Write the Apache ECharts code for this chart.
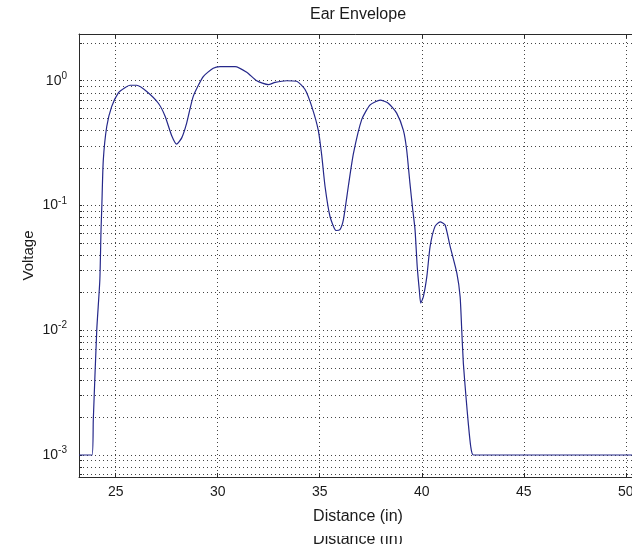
<!DOCTYPE html>
<html>
<head>
<meta charset="utf-8">
<title>Ear Envelope</title>
<script src="https://cdn.jsdelivr.net/npm/echarts@6/dist/echarts.min.js"></script>
<style>
  html, body { margin: 0; padding: 0; background: #fff; }
  #chart { width: 632px; height: 544px; }
</style>
</head>
<body>
<div id="chart"></div>
<script>
// 读图得到的数据 (distance in inches, voltage on log scale)
var distance = [
  23.2, 23.84, 23.9, 24.07, 24.22, 24.28, 24.32, 24.39, 24.56, 24.8,
  25.13, 25.45, 25.7, 26.03, 26.52, 27.09, 27.42, 27.75, 27.99, 28.24,
  28.48, 28.8, 29.29, 29.78, 30.11, 30.85, 31.42, 31.91, 32.48, 32.81,
  33.38, 33.87, 34.28, 34.61, 34.93, 35.1, 35.26, 35.5, 35.8, 35.99,
  36.16, 36.4, 36.65, 37.06, 37.47, 37.96, 38.36, 38.77, 39.1, 39.26,
  39.42, 39.55, 39.67, 39.78, 39.88, 39.95, 40.08, 40.25, 40.41, 40.65,
  40.9, 41.14, 41.39, 41.72, 41.88, 41.96, 42.04, 42.17, 42.28, 42.4,
  42.53, 50.55
];
var voltage = [
  0.001, 0.001, 0.0019, 0.01, 0.025, 0.064, 0.1, 0.23, 0.43, 0.62,
  0.8, 0.88, 0.92, 0.92, 0.82, 0.66, 0.52, 0.36, 0.31, 0.35,
  0.46, 0.75, 1.08, 1.26, 1.3, 1.3, 1.17, 1.0, 0.93, 0.97,
  1.0, 0.99, 0.85, 0.62, 0.4, 0.25, 0.142, 0.082, 0.063, 0.064,
  0.077, 0.142, 0.26, 0.49, 0.64, 0.7, 0.66, 0.55, 0.4, 0.28,
  0.151, 0.095, 0.064, 0.032, 0.021, 0.0165, 0.0186, 0.027, 0.047, 0.068,
  0.074, 0.07, 0.047, 0.0287, 0.0186, 0.01, 0.0054, 0.0029, 0.0018, 0.00117,
  0.001, 0.001
];

// 坐标轴刻度
var xTicks = [25, 30, 35, 40, 45, 50];
var yDecades = [0.001, 0.01, 0.1, 1];
var yGridLines = [
  0.0007, 0.0008, 0.0009,
  0.001, 0.002, 0.003, 0.004, 0.005, 0.006, 0.007, 0.008, 0.009,
  0.01, 0.02, 0.03, 0.04, 0.05, 0.06, 0.07, 0.08, 0.09,
  0.1, 0.2, 0.3, 0.4, 0.5, 0.6, 0.7, 0.8, 0.9,
  1, 2
];

var FONT = "'Liberation Sans', Arial, Helvetica, sans-serif";
var dotted = { color: '#444444', width: 1, type: [1, 3] };
var frame = { color: '#2a2a2a', width: 1 };

var chart = echarts.init(document.getElementById('chart'));

var points = distance.map(function (d, i) {
  return [d, voltage[i]];
});

var option = {
  backgroundColor: '#ffffff',
  animation: false,
  textStyle: { fontFamily: FONT },
  grid: {
    left: 79,
    right: -5,
    top: 34,
    bottom: 67,
    show: false,
    outerBoundsMode: 'none'
  },
  xAxis: [{
    type: 'value',
    min: 23.2,
    max: 50.55,
    name: 'Distance (in)',
    nameLocation: 'middle',
    nameGap: 32,
    nameMoveOverlap: false,
    nameTextStyle: { fontSize: 16, color: '#1a1a1a', fontFamily: FONT },
    axisLine: { show: true, onZero: false, lineStyle: frame },
    axisTick: { show: true, inside: true, length: 4, customValues: xTicks, lineStyle: frame },
    axisLabel: { customValues: xTicks, fontSize: 14, color: '#1a1a1a', margin: 8, fontFamily: FONT },
    splitLine: { show: true, lineStyle: dotted }
  }, {
    type: 'value',
    position: 'top',
    min: 23.2,
    max: 50.55,
    axisLine: { show: true, onZero: false, lineStyle: frame },
    axisTick: { show: true, inside: true, length: 4, customValues: xTicks, lineStyle: frame },
    axisLabel: { show: false },
    splitLine: { show: false }
  }],
  yAxis: {
    type: 'log',
    logBase: 10,
    min: 0.000666,
    max: 2.37,
    name: 'Voltage',
    nameLocation: 'middle',
    nameGap: 43,
    nameRotate: 90,
    nameMoveOverlap: false,
    nameTextStyle: { fontSize: 15, color: '#1a1a1a', fontFamily: FONT },
    axisLine: { show: true, lineStyle: frame },
    axisTick: { show: true, inside: true, length: 3, customValues: yGridLines, lineStyle: frame },
    axisLabel: {
      customValues: yDecades,
      margin: 12,
      formatter: function (v) {
        var e = Math.round(Math.log(v) / Math.LN10);
        return '{b|10}{s|' + e + '}';
      },
      rich: {
        b: { fontSize: 14, color: '#1a1a1a', fontFamily: FONT },
        s: { fontSize: 10, color: '#1a1a1a', fontFamily: FONT, padding: [0, 0, 9, 0] }
      }
    },
    splitLine: { show: true, lineStyle: dotted }
  },
  graphic: [{
    type: 'text',
    x: 358,
    y: 15,
    style: {
      text: 'Ear Envelope',
      fill: '#1a1a1a',
      font: '16px ' + FONT,
      align: 'center',
      verticalAlign: 'middle'
    }
  }, {
    type: 'text',
    x: 358,
    y: 532,
    z: 1,
    style: {
      text: 'Distance (in)',
      fill: '#1a1a1a',
      font: '16px ' + FONT,
      align: 'center',
      verticalAlign: 'top'
    }
  }, {
    type: 'rect',
    z: 2,
    shape: { x: 290, y: 527, width: 140, height: 9 },
    style: { fill: '#ffffff' }
  }],
  series: [{
    type: 'line',
    xAxisIndex: 0,
    data: points,
    showSymbol: false,
    smooth: 0.2,
    clip: true,
    lineStyle: { color: '#25288a', width: 1.2 },
    itemStyle: { color: '#25288a' }
  }]
};

chart.setOption(option);
</script>
</body>
</html>
